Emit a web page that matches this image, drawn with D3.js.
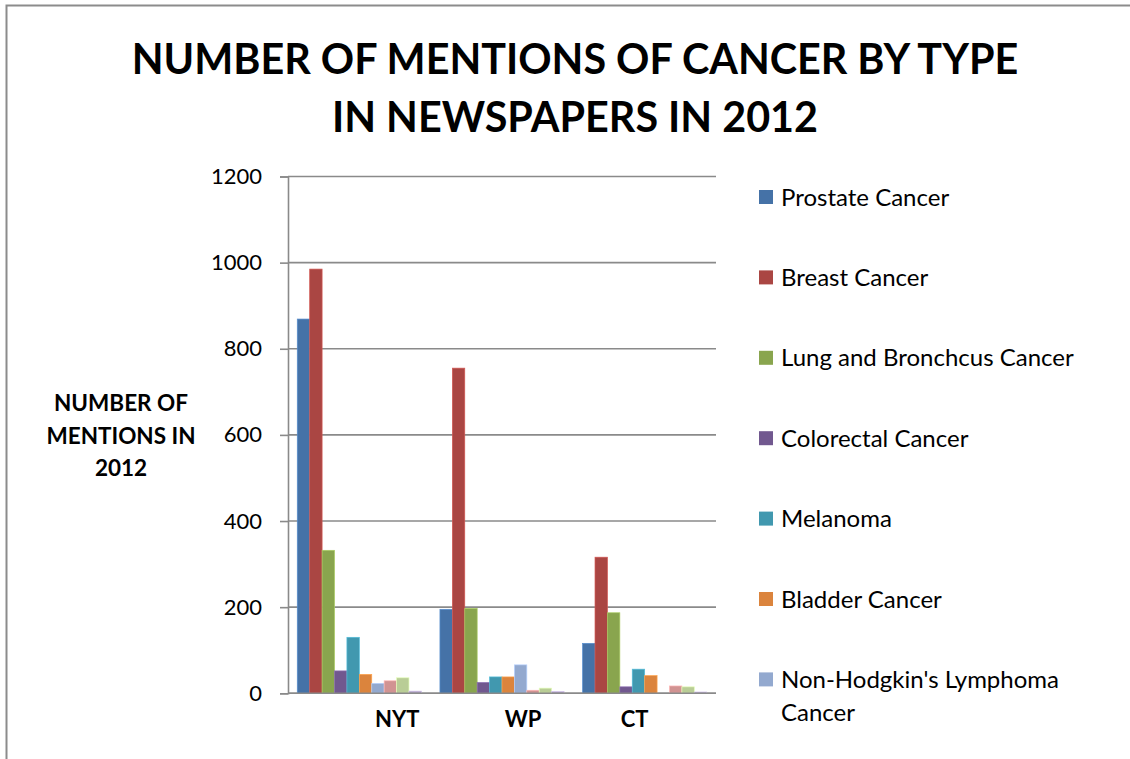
<!DOCTYPE html>
<html>
<head>
<meta charset="utf-8">
<script src="https://cdn.jsdelivr.net/npm/d3@7"></script>
<style>
  html, body { margin: 0; padding: 0; background: #ffffff; }
  svg { display: block; }
  text { font-family: Lato, "Open Sans", sans-serif; fill: #000; }
</style>
</head>
<body>
<svg id="chart" width="1130" height="759"></svg>
<script>
// Newspapers along the category axis
const newspapers = ["NYT", "WP", "CT"];

// Legend entries (as many as fit in the legend box)
const legendLabels = [
  "Prostate Cancer",
  "Breast Cancer",
  "Lung and Bronchcus Cancer",
  "Colorectal Cancer",
  "Melanoma",
  "Bladder Cancer",
  "Non-Hodgkin's Lymphoma Cancer"
];

// Mentions per cancer type, in series order, for each paper
const nytValues = [869, 985, 332, 52, 130, 44, 23, 29, 36, 5];
const wpValues  = [195, 755, 197, 25, 38, 38, 66, 7, 12, 4];
const ctValues  = [116, 316, 187, 15, 56, 41, 0, 17, 15, 3];

// Value axis ticks
const yTicks = [0, 200, 400, 600, 800, 1000, 1200];

// Series fill colours
const seriesColors = ["#4572A7", "#AA4643", "#89A54E", "#71588F", "#4198AF",
                      "#DB843D", "#93A9CF", "#D19392", "#B9CD96", "#A99BBD"];

const table = [nytValues, wpValues, ctValues];
const seriesIdx = d3.range(nytValues.length);

const svg = d3.select("#chart");

// Outer chart frame (only top and left edges fall inside the view)
svg.append("rect")
  .attr("x", 6.5).attr("y", 5.5)
  .attr("width", 1300).attr("height", 900)
  .attr("fill", "none").attr("stroke", "#8c8c8c").attr("stroke-width", 2);

// Plot area
const plot = { left: 288, right: 716, top: 176.5, bottom: 693.3 };

const x0 = d3.scaleBand()
  .domain(newspapers)
  .range([plot.left, plot.right])
  .paddingInner(0.13)
  .paddingOuter(0.065);

const x1 = d3.scaleBand()
  .domain(seriesIdx)
  .range([0, x0.bandwidth()]);

const y = d3.scaleLinear()
  .domain([0, 1200])
  .range([plot.bottom, plot.top]);

const gridColor = "#8a8a8a";

// Horizontal gridlines
svg.append("g")
  .selectAll("line")
  .data(yTicks)
  .join("line")
  .attr("x1", plot.left).attr("x2", plot.right)
  .attr("y1", d => y(d)).attr("y2", d => y(d))
  .attr("stroke", gridColor).attr("stroke-width", 1.6);

// Bars
const groups = svg.append("g")
  .selectAll("g")
  .data(table)
  .join("g")
  .attr("transform", (d, i) => `translate(${x0(newspapers[i])},0)`);

groups.selectAll("rect")
  .data(d => d.map((v, i) => ({ v, i })))
  .join("rect")
  .attr("x", d => x1(d.i))
  .attr("y", d => y(d.v))
  .attr("width", x1.bandwidth())
  .attr("height", d => y(0) - y(d.v))
  .attr("fill", d => seriesColors[d.i])
  .attr("stroke", d => d3.color(seriesColors[d.i]).brighter(0.6))
  .attr("stroke-width", d => d.v > 0 ? 0.7 : 0);

// Value axis
const yAxis = d3.axisLeft(y)
  .tickValues(yTicks)
  .tickSize(8)
  .tickPadding(18)
  .tickFormat(d3.format("d"));

const yAxisG = svg.append("g")
  .attr("transform", `translate(${plot.left},0)`)
  .call(yAxis);
yAxisG.select(".domain").attr("stroke", gridColor).attr("stroke-width", 1.6);
yAxisG.selectAll(".tick line").attr("stroke", gridColor).attr("stroke-width", 1.6);
yAxisG.selectAll(".tick text")
  .attr("font-family", "Lato, sans-serif")
  .attr("font-size", 22)
  .attr("fill", "#000");

// Baseline
svg.append("line")
  .attr("x1", plot.left).attr("x2", plot.right)
  .attr("y1", y(0)).attr("y2", y(0))
  .attr("stroke", gridColor).attr("stroke-width", 1.6);

// Category labels (shifted sideways within their bands)
const labelShift = [38, 21, -10];
svg.append("g")
  .selectAll("text")
  .data(newspapers)
  .join("text")
  .attr("x", (d, i) => x0(d) + x0.bandwidth() / 2 + labelShift[i])
  .attr("y", 727)
  .attr("text-anchor", "middle")
  .attr("font-weight", "bold")
  .attr("font-size", 22)
  .text(d => d);

// Title
const title = svg.append("text")
  .attr("text-anchor", "middle")
  .attr("font-weight", "bold")
  .attr("font-size", 41.3);
title.append("tspan").attr("x", 575).attr("y", 74).text("NUMBER OF MENTIONS OF CANCER BY TYPE");
title.append("tspan").attr("x", 575).attr("y", 132).text("IN NEWSPAPERS IN 2012");

// Value axis title
const yTitle = svg.append("text")
  .attr("text-anchor", "middle")
  .attr("font-weight", "bold")
  .attr("font-size", 22.5);
["NUMBER OF", "MENTIONS IN", "2012"].forEach((t, i) => {
  yTitle.append("tspan").attr("x", 121).attr("y", 411 + i * 32.5).text(t);
});

// Legend
const legend = svg.append("g");
const rowStep = 80.4, firstRow = 197, maxTextWidth = 320;
legendLabels.forEach((label, i) => {
  const cy = firstRow + i * rowStep;
  legend.append("rect")
    .attr("x", 759).attr("y", cy - 7)
    .attr("width", 14).attr("height", 14)
    .attr("fill", seriesColors[i]);
  const t = legend.append("text")
    .attr("font-size", 24)
    .attr("x", 781).attr("y", cy + 8.5);
  // simple word wrap
  const words = label.split(" ");
  let line = [];
  let tspan = t.append("tspan").attr("x", 781).attr("dy", 0);
  words.forEach(w => {
    line.push(w);
    tspan.text(line.join(" "));
    if (tspan.node().getComputedTextLength() > maxTextWidth && line.length > 1) {
      line.pop();
      tspan.text(line.join(" "));
      line = [w];
      tspan = t.append("tspan").attr("x", 781).attr("dy", 33).text(w);
    }
  });
});
</script>
</body>
</html>
